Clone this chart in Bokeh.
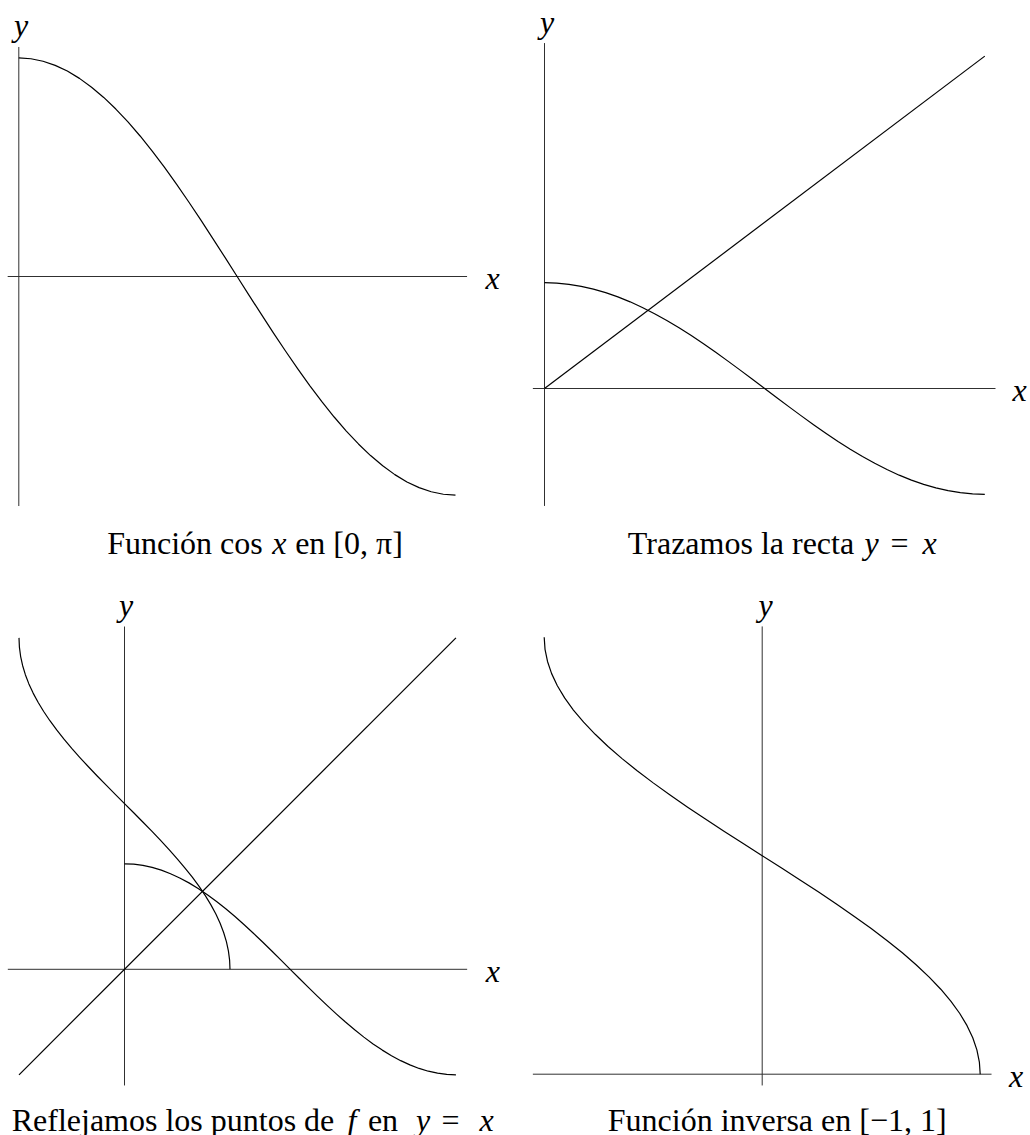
from bokeh.plotting import figure
from bokeh.models import Range1d
from bokeh.layouts import column, row
from bokeh.core.properties import value
from bokeh.embed import file_html
from bokeh.resources import INLINE

# ---------------- data ----------------
# sample angles t in [0, pi] (radians) and the values cos t
angle_t = [0.0000, 0.0873, 0.1745, 0.2618, 0.3491, 0.4363, 0.5236, 0.6109, 0.6981,
           0.7854, 0.8727, 0.9599, 1.0472, 1.1345, 1.2217, 1.3090, 1.3963, 1.4835,
           1.5708, 1.6581, 1.7453, 1.8326, 1.9199, 2.0071, 2.0944, 2.1817, 2.2689,
           2.3562, 2.4435, 2.5307, 2.6180, 2.7053, 2.7925, 2.8798, 2.9671, 3.0543,
           3.1416]
cos_t = [1.0000, 0.9962, 0.9848, 0.9659, 0.9397, 0.9063, 0.8660, 0.8192, 0.7660,
         0.7071, 0.6428, 0.5736, 0.5000, 0.4226, 0.3420, 0.2588, 0.1736, 0.0872,
         0.0000, -0.0872, -0.1736, -0.2588, -0.3420, -0.4226, -0.5000, -0.5736,
         -0.6428, -0.7071, -0.7660, -0.8192, -0.8660, -0.9063, -0.9397, -0.9659,
         -0.9848, -0.9962, -1.0000]
# reflected points (inverse function): x = cos t, y = t
inverse_x = cos_t
inverse_y = angle_t

# straight line y = x
line_p2 = [0.0, 3.1416]
line_p3 = [-1.0, 3.1416]

# axis extents (data units) for each panel: (x-axis span, y-axis span)
axes_p1 = ([-0.08, 3.225], [-1.05, 1.05])
axes_p2 = ([-0.083, 3.218], [-1.11, 3.265])
axes_p3 = ([-1.106, 3.248], [-1.101, 3.249])
axes_p4 = ([-1.052, 1.052], [-0.081, 3.219])

titles = {
    "p1": [("Función cos", "normal"), ("x", "italic"), ("en [0, π]", "normal")],
    "p2": [("Trazamos la recta", "normal"), ("y", "italic"), ("=", "normal"), ("x", "italic")],
    "p3": [("Reflejamos los puntos de", "normal"), ("f", "italic"), ("en", "normal"),
           ("y", "italic"), ("=", "normal"), ("x", "italic")],
    "p4": [("Función inversa en [−1, 1]", "normal")],
}

# ---------------- styling / layout ----------------
FONT = value("Liberation Serif")
FSIZE = value("32px")
CURVE_W = 1.2
AXIS_W = 1.0
AXIS_C = "#303030"


class Panel:
    def __init__(self, X0, Y0, W, H, ox, oy, sx, sy):
        self.X0, self.Y0, self.ox, self.oy, self.sx, self.sy = X0, Y0, ox, oy, sx, sy
        self.p = figure(
            width=W, height=H, output_backend="svg", toolbar_location=None, tools="",
            x_axis_location=None, y_axis_location=None, min_border=0, title=None,
            x_range=Range1d((X0 - ox) / sx, (X0 + W - ox) / sx),
            y_range=Range1d((oy - (Y0 + H)) / sy, (oy - Y0) / sy),
            background_fill_color="white", border_fill_color="white",
        )
        self.p.outline_line_color = None
        self.p.grid.visible = False

    def dx(self, px):
        return (px - self.ox) / self.sx

    def dy(self, py):
        return (self.oy - py) / self.sy

    def axes(self, spans):
        xs, ys = spans
        self.p.line(x=xs, y=[0, 0], line_color=AXIS_C, line_width=AXIS_W)
        self.p.line(x=[0, 0], y=ys, line_color=AXIS_C, line_width=AXIS_W)

    def curve(self, xs, ys):
        self.p.line(x=xs, y=ys, line_color="black", line_width=CURVE_W,
                    line_join="round")

    def label(self, txt, px, py, style="italic", align="center"):
        self.p.text(x=[self.dx(px)], y=[self.dy(py)], text=[txt], text_font=FONT,
                    text_font_size=FSIZE, text_font_style=style, text_align=align,
                    text_baseline="alphabetic", text_color="black")

    def caption(self, pieces, centers, py):
        for (txt, style), cx in zip(pieces, centers):
            self.label(txt, cx, py, style=style)


# Panel 1: cos x on [0, pi]
P1 = Panel(0, 0, 515, 570, 18.3, 276.0, 139.0, 218.6)
P1.axes(axes_p1)
P1.curve(angle_t, cos_t)
P1.label("y", 20.7, 24.5)
P1.label("x", 492.0, 277.0)
P1.caption(titles["p1"], [184.5, 278.8, 348.5], 542.0)

# Panel 2: cos x and the line y = x
P2 = Panel(515, 0, 515, 570, 544.0, 388.0, 140.15, 105.8)
P2.axes(axes_p2)
P2.curve(angle_t, cos_t)
P2.curve(line_p2, line_p2)
P2.label("y", 546.7, 21.0)
P2.label("x", 1019.0, 389.0)
P2.caption(titles["p2"], [740.5, 871.0, 899.0, 929.0], 542.0)

# Panel 3: reflecting the points of f on y = x
P3 = Panel(0, 570, 515, 565, 124.0, 968.8, 105.5, 105.5)
P3.axes(axes_p3)
P3.curve(line_p3, line_p3)
P3.curve(angle_t, cos_t)
P3.curve(inverse_x, inverse_y)
P3.label("y", 125.7, 604.0)
P3.label("x", 492.3, 970.0)
P3.caption(titles["p3"], [172.5, 351.5, 382.5, 422.5, 450.0, 486.0], 1119.0)

# Panel 4: inverse function on [-1, 1]
P4 = Panel(515, 570, 515, 565, 761.7, 1073.7, 218.0, 139.1)
P4.axes(axes_p4)
P4.curve(inverse_x, inverse_y)
P4.label("y", 765.0, 604.0)
P4.label("x", 1015.7, 1075.0)
P4.caption(titles["p4"], [776.7], 1119.0)

layout = column(row(P1.p, P2.p, spacing=0), row(P3.p, P4.p, spacing=0), spacing=0)

open("out.html", "w").write(file_html(layout, INLINE))
